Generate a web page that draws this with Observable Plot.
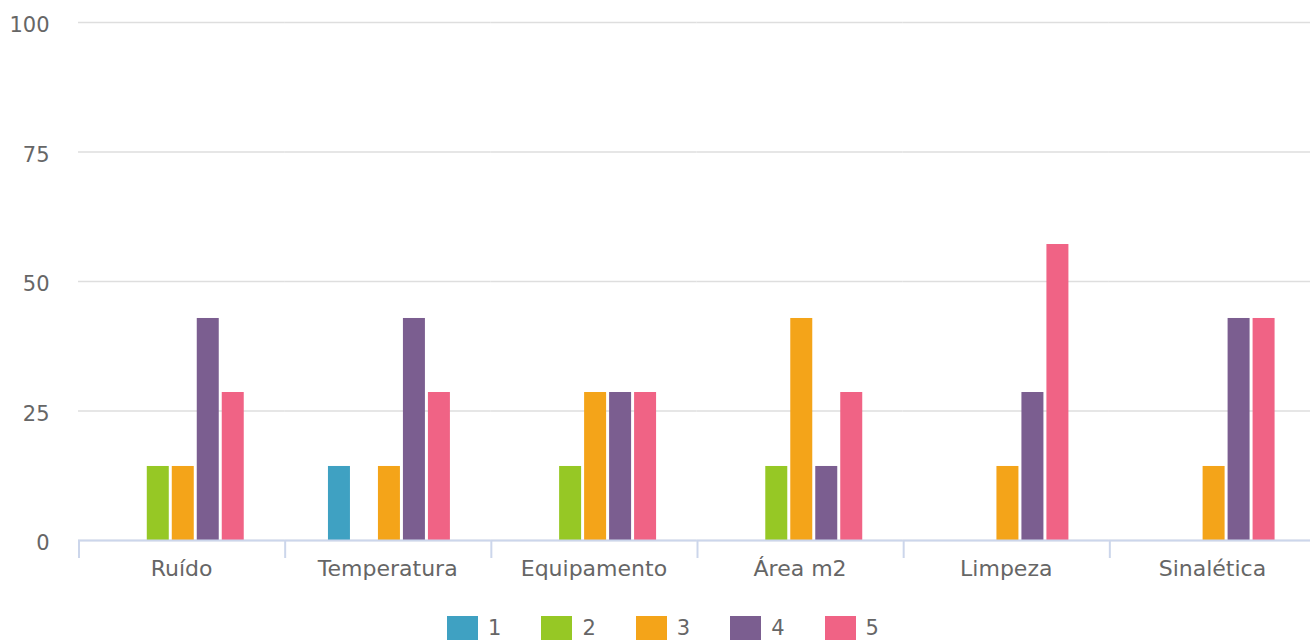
<!DOCTYPE html>
<html>
<head>
<meta charset="utf-8">
<script src="https://cdn.jsdelivr.net/npm/d3@7"></script>
<script src="https://cdn.jsdelivr.net/npm/@observablehq/plot@0.6"></script>
<style>
  html, body { margin: 0; padding: 0; background: #fff; overflow: hidden; }
  body { font-family: "DejaVu Sans", Verdana, sans-serif; }
  #chart { width: 1310px; overflow: hidden; }
  #chart svg { max-width: none !important; }
  #legend { width: 1310px; display: flex; justify-content: center; align-items: center; margin-top: 16px; height: 24px; padding-left: 16px; box-sizing: border-box; }
  .item { display: flex; align-items: center; margin: 0 20px; }
  .sw { width: 31px; height: 24px; margin-right: 10px; }
  .lb { font-size: 21px; color: #666; line-height: 24px; }
</style>
</head>
<body>
<div id="chart"></div>
<div id="legend"></div>
<script>
const categories = ["Ruído", "Temperatura", "Equipamento", "Área m2", "Limpeza", "Sinalética"];
const seriesNames = ["1", "2", "3", "4", "5"];
const colors = ["#3fa1c2", "#96c825", "#f4a419", "#7b5e90", "#f06385"];
const series1 = [0, 14.29, 0, 0, 0, 0];
const series2 = [14.29, 0, 14.29, 14.29, 0, 0];
const series3 = [14.29, 14.29, 28.57, 42.86, 14.29, 14.29];
const series4 = [42.86, 42.86, 28.57, 14.29, 28.57, 42.86];
const series5 = [28.57, 28.57, 28.57, 28.57, 57.14, 42.86];
const yTicks = [0, 25, 50, 75, 100];

const allSeries = [series1, series2, series3, series4, series5];
const data = categories.flatMap((c, i) =>
  seriesNames.map((s, j) => ({category: c, series: s, value: allSeries[j][i]}))
).filter(d => d.value > 0);

const chart = Plot.plot({
  width: 1315,
  height: 600,
  marginLeft: 78,
  marginRight: 0,
  marginTop: 22,
  marginBottom: 60,
  style: {fontFamily: "'DejaVu Sans', Verdana, sans-serif", fontSize: "21px", color: "#666", background: "#fff"},
  fx: {domain: categories, padding: 0, round: false, label: null, axis: null},
  x: {domain: seriesNames, paddingInner: 0.12, paddingOuter: 1.685, align: 0.52, round: false, axis: null},
  y: {domain: [0, 100], label: null, axis: null},
  color: {domain: seriesNames, range: colors},
  marks: [
    Plot.gridY(yTicks, {stroke: "#dedede", strokeOpacity: 1, strokeWidth: 1.5}),
    Plot.axisY(yTicks, {tickSize: 0, tickPadding: 29, dy: 3, fontSize: 21, label: null}),
    Plot.axisFx({anchor: "bottom", tickSize: 0, tickPadding: 20, fontSize: 22, label: null}),
    Plot.barY(data, {fx: "category", x: "series", y: "value", fill: "series"}),
    Plot.ruleY([0], {stroke: "#ccd6eb", strokeWidth: 2})
  ]
});

// category boundary ticks on the bottom axis
const fxs = chart.scale("fx");
const ys = chart.scale("y");
const fxBand = d3.scaleBand().domain(fxs.domain).range(fxs.range).padding(0);
const y0 = ys.apply(0);
const bounds = fxs.domain.map(d => fxBand(d) + 1);
d3.select(chart).append("g")
  .selectAll("line").data(bounds).join("line")
  .attr("x1", d => d).attr("x2", d => d)
  .attr("y1", y0).attr("y2", y0 + 18)
  .attr("stroke", "#ccd6eb").attr("stroke-width", 2);

document.getElementById("chart").appendChild(chart);

const legend = document.getElementById("legend");
seriesNames.forEach((s, i) => {
  const it = document.createElement("div");
  it.className = "item";
  const sw = document.createElement("div");
  sw.className = "sw";
  sw.style.background = colors[i];
  const lb = document.createElement("span");
  lb.className = "lb";
  lb.textContent = s;
  it.appendChild(sw);
  it.appendChild(lb);
  legend.appendChild(it);
});
</script>
</body>
</html>
